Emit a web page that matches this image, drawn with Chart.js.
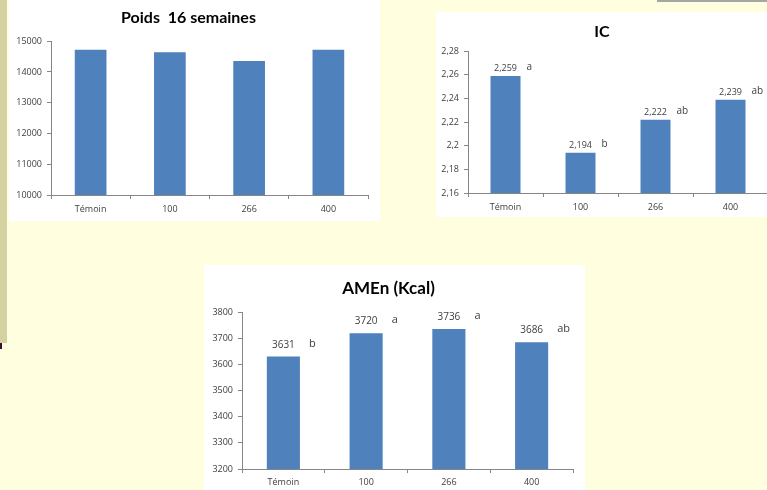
<!DOCTYPE html>
<html>
<head>
<meta charset="utf-8">
<script src="https://cdn.jsdelivr.net/npm/chart.js@4/dist/chart.umd.min.js"></script>
<style>
  html, body { margin: 0; padding: 0; }
  body { width: 767px; height: 490px; overflow: hidden; position: relative; background: #FFFFE0; font-family: Lato, sans-serif; }
  .strip { position: absolute; left: 0; top: 0; width: 7px; height: 343px; background: #D5D2A1; }
  .mark { position: absolute; left: 0; top: 343px; width: 2px; height: 6px; background: #3D0A3D; }
  .topbar { position: absolute; left: 657px; top: 0; width: 110px; height: 2px; background: #A6A6A6; }
  .panel { position: absolute; background: #FFFFFF; }
  canvas { display: block; }
</style>
</head>
<body>
<div class="strip"></div>
<div class="mark"></div>
<div class="topbar"></div>
<div class="panel" style="left:9px; top:0px; width:371px; height:221px;"><canvas id="poids" width="371" height="221"></canvas></div>
<div class="panel" style="left:436px; top:12px; width:340px; height:205px;"><canvas id="ic" width="340" height="205"></canvas></div>
<div class="panel" style="left:204px; top:265px; width:381px; height:232px;"><canvas id="amen" width="381" height="232"></canvas></div>

<script>
// Treatments (phytase dose) shown on every x axis
const categories = ['Témoin', '100', '266', '400'];

// Body weight at 16 weeks
const poidsValues = [14720, 14640, 14360, 14720];
const poidsTicks = { min: 10000, max: 15000, step: 1000 };

// Feed conversion ratio (IC) with significance letters
const icValues = [2.259, 2.194, 2.222, 2.239];
const icLetters = ['a', 'b', 'ab', 'ab'];
const icTicks = { min: 2.16, max: 2.28, step: 0.02 };

// Apparent metabolisable energy (AMEn, kcal) with significance letters
const amenValues = [3631, 3720, 3736, 3686];
const amenLetters = ['b', 'a', 'a', 'ab'];
const amenTicks = { min: 3200, max: 3800, step: 100 };

const BAR = '#4F81BD';
const AXIS = '#868686';
const TXT = '#404040';
const TITLE_FONT = 'Lato, sans-serif';
const FONT = '"Open Sans", sans-serif';

// Writes the value above each bar and the letter to its right
const barLabels = {
  id: 'barLabels',
  afterDatasetsDraw(chart, args, opts) {
    if (!opts || !opts.letters) return;
    const ctx = chart.ctx;
    const meta = chart.getDatasetMeta(0);
    const data = chart.data.datasets[0].data;
    ctx.save();
    meta.data.forEach((bar, i) => {
      ctx.fillStyle = TXT;
      ctx.textBaseline = 'alphabetic';
      ctx.textAlign = 'center';
      ctx.font = opts.valueSize + 'px ' + FONT;
      ctx.fillText(opts.format(data[i]), bar.x, bar.y - opts.gap);
      ctx.textAlign = 'left';
      ctx.font = opts.letterSize + 'px ' + FONT;
      ctx.fillText(opts.letters[i], bar.x + bar.width / 2 + opts.letterGap, bar.y - opts.gap - 1);
    });
    ctx.restore();
  }
};

function makeChart(id, cfg) {
  return new Chart(document.getElementById(id), {
    type: 'bar',
    data: {
      labels: categories,
      datasets: [{
        data: cfg.values,
        backgroundColor: BAR,
        borderWidth: 0,
        categoryPercentage: 1.0,
        barPercentage: 0.4
      }]
    },
    options: {
      responsive: false,
      animation: false,
      devicePixelRatio: 1,
      layout: { padding: { left: 0, right: cfg.padRight, top: 0, bottom: 0 } },
      plugins: {
        legend: { display: false },
        tooltip: { enabled: false },
        title: {
          display: true,
          text: cfg.title,
          color: '#000000',
          font: { family: TITLE_FONT, size: cfg.titleSize, weight: 'bold', lineHeight: 1.2 },
          padding: cfg.titlePad
        },
        barLabels: cfg.labels || {}
      },
      scales: {
        x: {
          grid: { display: true, drawOnChartArea: false, drawTicks: true, tickLength: 4, color: AXIS, offset: true },
          border: { display: true, color: AXIS, width: 1 },
          ticks: { color: TXT, font: { family: FONT, size: 9 }, padding: cfg.xPad, maxRotation: 0 },
          afterFit(scale) { scale.height = cfg.xHeight; }
        },
        y: {
          min: cfg.ticks.min,
          max: cfg.ticks.max,
          grid: { display: true, drawOnChartArea: false, drawTicks: true, tickLength: 4, color: AXIS },
          border: { display: true, color: AXIS, width: 1 },
          ticks: {
            stepSize: cfg.ticks.step,
            color: TXT,
            font: { family: FONT, size: 9 },
            padding: 5,
            callback: cfg.tickFormat
          },
          afterFit(scale) { scale.width = cfg.yWidth; }
        }
      }
    },
    plugins: [barLabels]
  });
}

const plainTick = v => String(v);
const commaTick = v => {
  let s = Number(v).toFixed(2);
  s = s.replace(/0+$/, '').replace(/\.$/, '');
  return s.replace('.', ',');
};

makeChart('poids', {
  values: poidsValues, ticks: poidsTicks, title: 'Poids  16 semaines', titleSize: 16,
  titlePad: { top: 8, bottom: 14 }, padRight: 12, yWidth: 42, xHeight: 26, xPad: 5,
  tickFormat: plainTick
});

makeChart('ic', {
  values: icValues, ticks: icTicks, title: 'IC', titleSize: 16,
  titlePad: { top: 10, bottom: 10 }, padRight: 8, yWidth: 32, xHeight: 24, xPad: 5,
  tickFormat: commaTick,
  labels: { letters: icLetters, valueSize: 9, letterSize: 10, gap: 5, letterGap: 6,
            format: v => v.toFixed(3).replace('.', ',') }
});

makeChart('amen', {
  values: amenValues, ticks: amenTicks, title: 'AMEn (Kcal)', titleSize: 17,
  titlePad: { top: 13, bottom: 14 }, padRight: 12, yWidth: 38, xHeight: 28, xPad: 4,
  tickFormat: plainTick,
  labels: { letters: amenLetters, valueSize: 10, letterSize: 11, gap: 9, letterGap: 9,
            format: v => String(v) }
});
</script>
</body>
</html>
